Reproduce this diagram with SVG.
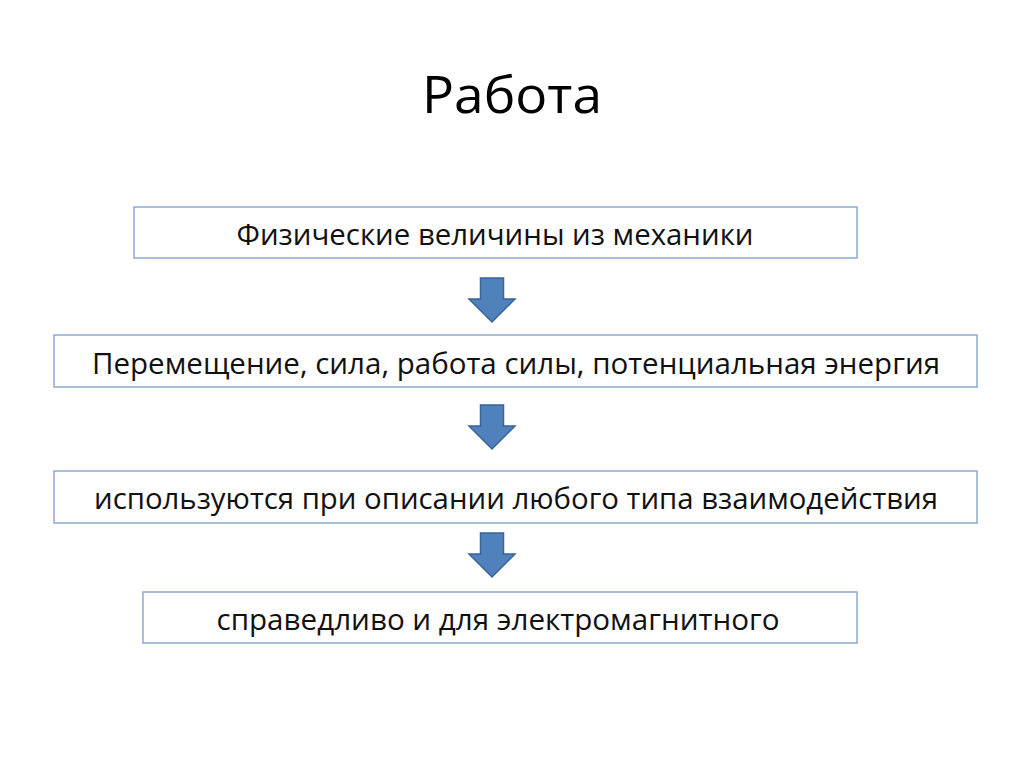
<svg xmlns="http://www.w3.org/2000/svg" width="1024" height="767" viewBox="0 0 1024 767">
<defs>
<style>
.box{fill:#ffffff;stroke:#8eaad0;stroke-width:1.5}
.t{font-family:"Open Sans","Liberation Sans",sans-serif;font-size:29px;fill:#111;text-anchor:middle}
.arr{fill:#4f81bd;stroke:#3a6396;stroke-width:1.5}
</style>
<path id="dn" class="arr" d="M-11.5,0 H11.5 V21 H23 L0,44 L-23,21 H-11.5 Z"/>
</defs>
<rect x="0" y="0" width="1024" height="767" fill="#ffffff"/>
<text x="512" y="113" style="font-family:'Open Sans','Liberation Sans',sans-serif;font-size:52px;fill:#000;text-anchor:middle" textLength="180" lengthAdjust="spacingAndGlyphs">Работа</text>
<g id="n1"><rect class="box" x="134" y="207" width="723" height="51"/><text class="t" x="495" y="245" textLength="517" lengthAdjust="spacingAndGlyphs">Физические величины из механики</text></g>
<g id="n2"><rect class="box" x="54" y="335" width="923" height="52"/><text class="t" x="516" y="374" textLength="848" lengthAdjust="spacingAndGlyphs">Перемещение, сила, работа силы, потенциальная энергия</text></g>
<g id="n3"><rect class="box" x="54" y="471" width="923" height="52"/><text class="t" x="516" y="509" textLength="844" lengthAdjust="spacingAndGlyphs">используются при описании любого типа взаимодействия</text></g>
<g id="n4"><rect class="box" x="143" y="592" width="714" height="51"/><text class="t" x="498" y="630" textLength="563" lengthAdjust="spacingAndGlyphs">справедливо и для электромагнитного</text></g>
<g id="connectors">
<use href="#dn" x="492" y="278"/>
<use href="#dn" x="492" y="405"/>
<use href="#dn" x="492" y="533"/>
</g>
</svg>
